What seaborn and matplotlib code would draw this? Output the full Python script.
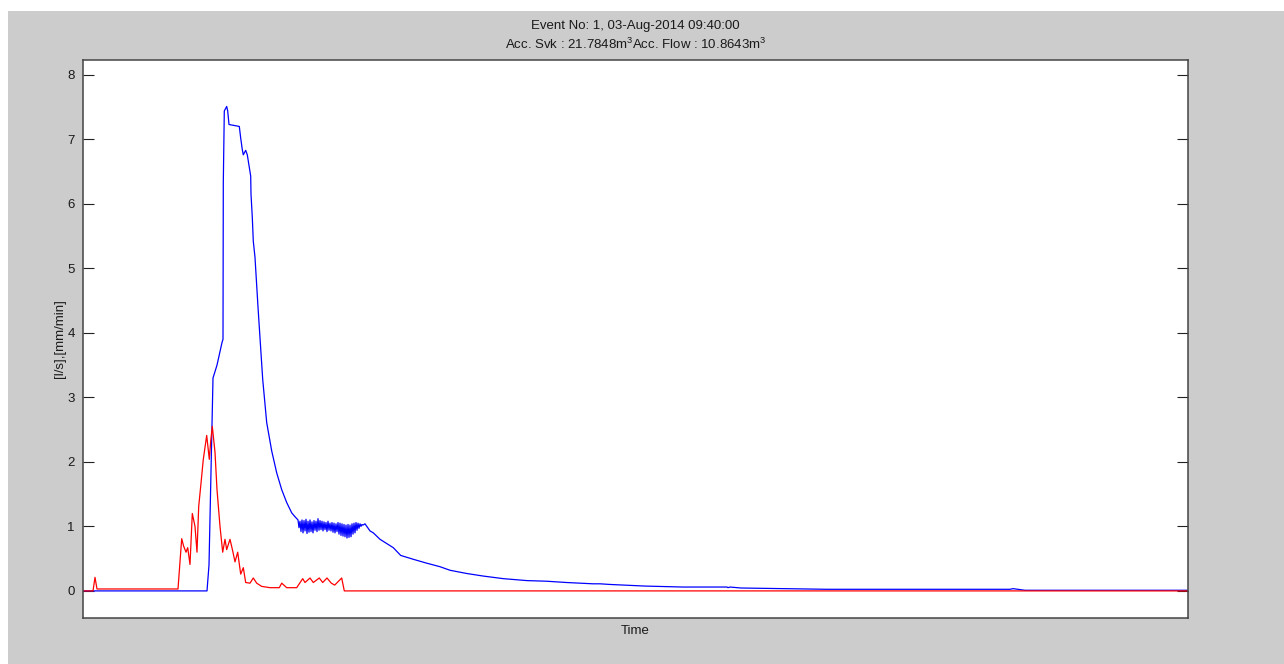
import numpy as np
import pandas as pd
import matplotlib
matplotlib.use("Agg")
import matplotlib.pyplot as plt
from matplotlib.patches import Rectangle
import seaborn as sns

# Event timeline in minutes after 09:40:00
title_lines = ["Event No: 1, 03-Aug-2014 09:40:00",
               "Acc. Svk : 21.7848m$^3$Acc. Flow : 10.8643m$^3$"]
x_label = "Time"
y_label = "[l/s],[mm/min]"
y_ticks = [0, 1, 2, 3, 4, 5, 6, 7, 8]

# Flow [l/s]
flow_time = [0, 124, 126, 128.5, 130, 134, 139, 140, 140.3, 141.3, 143.7, 144.7,
             146, 156.3, 157.7, 159.3, 160.3, 162.7, 164.3, 166, 167.7, 168,
             169.3, 170.3, 172, 175, 179.7, 183.7, 188.7, 193.7, 198.7, 203.7,
             208.7, 212,
             215, 216, 217, 218, 219, 220, 221, 222, 223, 224, 225, 226, 227,
             228, 229, 230, 231, 232, 233, 234, 235, 236, 237, 238, 239, 240,
             241, 242, 243, 244, 245, 246, 247, 248, 249, 250, 251, 252, 253,
             254, 255, 256, 257, 258, 259, 260, 261, 262, 263, 264, 265, 266,
             267, 268, 269, 270, 271, 272, 273, 274, 275, 276, 277, 278, 279,
             280,
             282, 287, 290.3, 297, 310.3, 317.7, 330.3, 343.7, 357, 367, 383.7,
             400.3, 420.3, 443.7, 463.7, 483.7, 510, 517, 527, 562, 600, 644,
             645, 647, 658, 744, 927, 930, 937, 942, 1105]
flow_value = [0.0, 0.0, 0.40, 2.25, 3.30, 3.50, 3.85, 3.90, 6.33, 7.44, 7.51, 7.44,
              7.23, 7.20, 7.02, 6.84, 6.76, 6.83, 6.76, 6.59, 6.43, 6.15,
              5.79, 5.42, 5.17, 4.40, 3.28, 2.61, 2.17, 1.83, 1.57, 1.37,
              1.21, 1.15,
              1.10, 0.98, 1.08, 0.92, 1.10, 0.90, 1.09, 0.93, 1.11, 0.89, 1.08,
              0.91, 1.10, 0.92, 1.07, 0.90, 1.09, 0.94, 1.08, 0.92, 1.12, 0.94,
              1.09, 0.95, 1.08, 0.93, 1.07, 0.95, 1.06, 0.92, 1.08, 0.94, 1.05,
              0.93, 1.06, 0.91, 1.05, 0.90, 1.04, 0.92, 1.06, 0.88, 1.05, 0.86,
              1.04, 0.85, 1.03, 0.84, 1.02, 0.82, 1.03, 0.83, 1.02, 0.84, 1.04,
              0.88, 1.05, 0.90, 1.06, 0.94, 1.05, 0.97, 1.04, 1.00, 1.03, 1.02,
              1.04, 0.93, 0.90, 0.80, 0.67, 0.55, 0.49, 0.43, 0.375, 0.32, 0.27,
              0.23, 0.19, 0.16, 0.15, 0.13, 0.11, 0.11, 0.10, 0.075, 0.06, 0.06,
              0.05, 0.06, 0.045, 0.025, 0.025, 0.035, 0.02, 0.01, 0.01]

# Rain intensity [mm/min]
rain_time = [0, 10, 12, 14, 95, 98.7, 100.5, 103, 104.7, 107, 109.3, 112, 114,
             115.7, 117.7, 120.3, 123.7, 126.3, 127.7, 129.3, 132, 134, 137,
             139.7, 142, 143.7, 147, 149.7, 152, 154.7, 157.7, 160.3, 162.7,
             167, 170.3, 173.7, 178.7, 187, 196.3, 198.7, 203.7, 213.7, 219.7,
             222, 227, 230.3, 236.3, 239.7, 244, 248.3, 251.7, 258.7, 261.3,
             1105]
rain_value = [0.0, 0.0, 0.21, 0.03, 0.03, 0.81, 0.70, 0.60, 0.67, 0.41, 1.20,
              1.00, 0.60, 1.31, 1.62, 2.04, 2.41, 2.04, 2.32, 2.55, 2.15, 1.57,
              1.00, 0.60, 0.80, 0.64, 0.80, 0.62, 0.45, 0.60, 0.26, 0.36, 0.13,
              0.12, 0.20, 0.12, 0.07, 0.05, 0.05, 0.12, 0.05, 0.05, 0.19, 0.13,
              0.20, 0.13, 0.20, 0.13, 0.20, 0.12, 0.09, 0.20, 0.0, 0.0]

flow_df = pd.DataFrame({"t": flow_time, "v": flow_value})
rain_df = pd.DataFrame({"t": rain_time, "v": rain_value})

sns.set_theme(style="white")
plt.rcParams["font.family"] = ["Liberation Sans", "DejaVu Sans"]
plt.rcParams["mathtext.default"] = "regular"

W, H = 1284, 664
fig = plt.figure(figsize=(W / 100, H / 100), dpi=100, facecolor="white")
fig.patches.append(Rectangle((8 / W, 0), 1 - 8 / W, 1 - 11 / H,
                             transform=fig.transFigure, facecolor="#cccccc",
                             edgecolor="none", zorder=-10))

ax = fig.add_axes([83 / W, 1 - 618 / H, (1188 - 83) / W, (618 - 60) / H])
ax.set_facecolor("white")

sns.lineplot(data=flow_df, x="t", y="v", ax=ax, color="#0000ff", lw=0.9,
             estimator=None, sort=False)
sns.lineplot(data=rain_df, x="t", y="v", ax=ax, color="#ff0000", lw=0.9,
             estimator=None, sort=False)

ax.set_xlim(0, 1105)
ax.set_ylim(-0.42, 8.23)
ax.set_xticks([])
ax.set_yticks(y_ticks)
ax.set_yticklabels([str(v) for v in y_ticks], fontsize=9.5, color="#1a1a1a")
ax.tick_params(axis="y", which="both", direction="in", length=8, width=0.8,
               color="#222222", left=True, right=True, labelleft=True,
               labelright=False, pad=6)
for sp in ax.spines.values():
    sp.set_visible(True)
    sp.set_color("#444444")
    sp.set_linewidth(1.1)

ax.set_xlabel(x_label, fontsize=9.5, color="#1a1a1a", labelpad=5)
ax.set_ylabel(y_label, fontsize=9.5, color="#1a1a1a", labelpad=1)
ax.set_title("\n".join(title_lines), fontsize=9.5, color="#1a1a1a", pad=8,
             linespacing=1.35)

fig.savefig("out.png", dpi=100, facecolor=fig.get_facecolor())
